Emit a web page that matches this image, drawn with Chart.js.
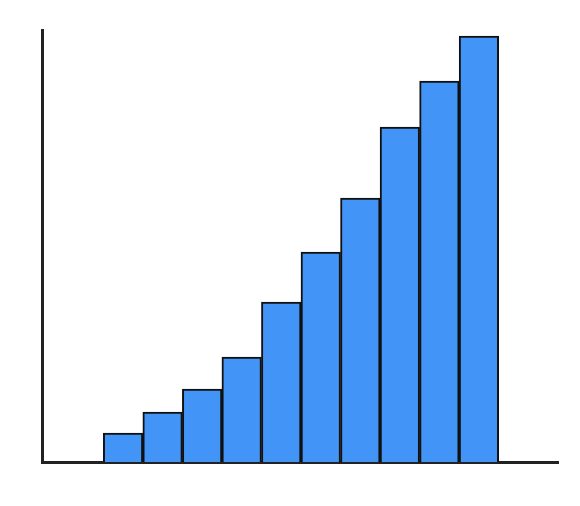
<!DOCTYPE html><html><head><script src="https://cdn.jsdelivr.net/npm/chart.js@4"></script>
<style>html,body{margin:0;background:#fff}#w{width:580px;height:506px}</style></head><body><div id="w"><canvas id="c"></canvas></div>
<script>
const positions=[2,3,4,5,6,7,8,9,10,11];
const values=[29,50,73,105,160,210,264,335,381,426];
new Chart(document.getElementById('c'),{type:'bar',
data:{datasets:[{data:positions.map((p,i)=>({x:p,y:values[i]})),backgroundColor:'#4294f7',borderColor:'#111',borderWidth:2,barPercentage:1,categoryPercentage:1}]},
options:{responsive:true,maintainAspectRatio:false,animation:false,
layout:{padding:{left:42,top:30,right:22,bottom:44}},
plugins:{legend:{display:false},tooltip:{enabled:false}},
scales:{x:{type:'linear',offset:false,min:-0.05,max:13,grid:{display:false,drawTicks:false},ticks:{display:false},border:{color:'#222',width:3}},
y:{min:0,max:432,grid:{display:false,drawTicks:false},ticks:{display:false},border:{color:'#222',width:3}}}}});
</script></body></html>
